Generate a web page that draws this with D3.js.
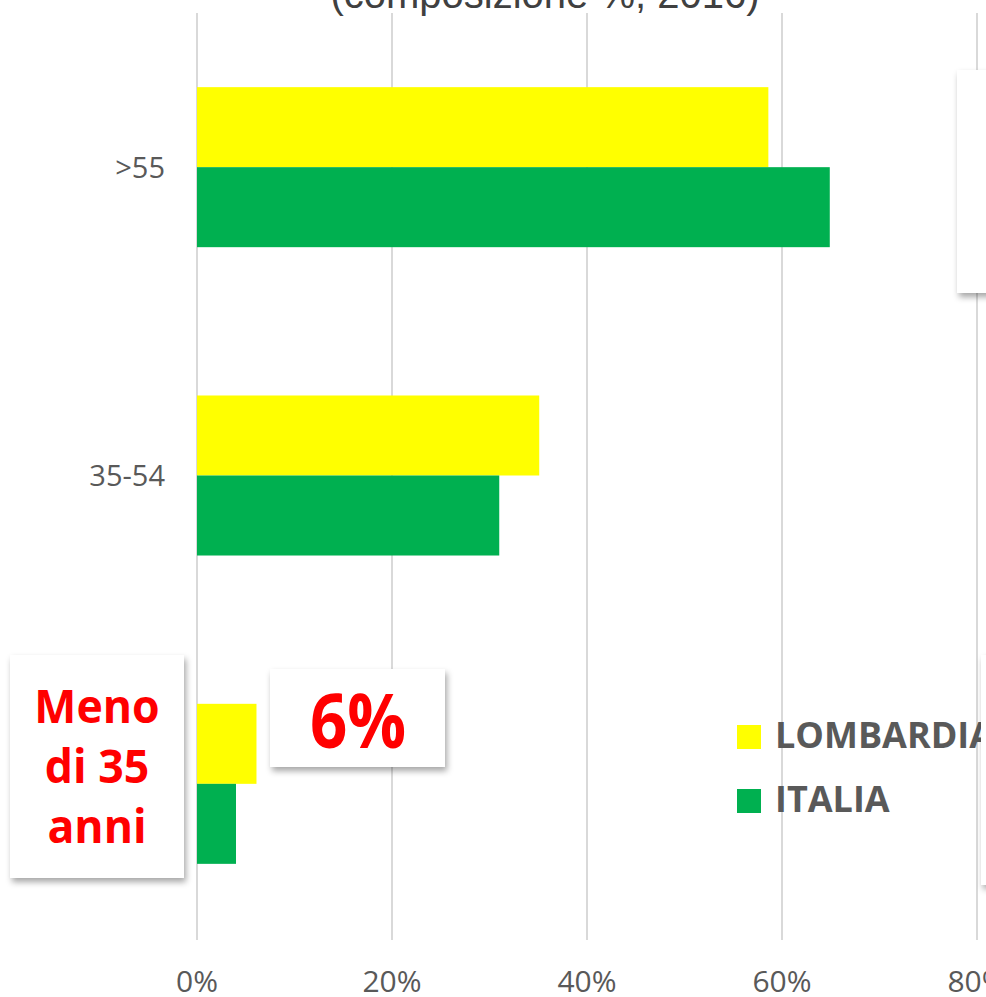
<!DOCTYPE html>
<html>
<head>
<meta charset="utf-8">
<script src="https://cdn.jsdelivr.net/npm/d3@7"></script>
<style>
  body { margin: 0; background: #fff; overflow: hidden; }
  svg { display: block; }
</style>
</head>
<body>
<script>
var width = 986;
var height = 997;

// data (percent)
var categories = [">55", "35-54", "<35"];
var seriesNames = ["LOMBARDIA", "ITALIA"];
var lombardia = [58.6, 35.1, 6.1];
var italia = [64.9, 31.0, 4.0];
var xTicks = [0, 20, 40, 60, 80];
var colors = ["#ffff00", "#00b050"];

var svg = d3.select("body").append("svg")
    .attr("width", width)
    .attr("height", height);

var defs = svg.append("defs");
var shadow = defs.append("filter")
    .attr("id", "shadow")
    .attr("x", "-20%").attr("y", "-20%")
    .attr("width", "140%").attr("height", "140%");
shadow.append("feDropShadow")
    .attr("dx", 2).attr("dy", 4)
    .attr("stdDeviation", 3)
    .attr("flood-color", "#000")
    .attr("flood-opacity", 0.35);

var xScale = d3.scaleLinear()
    .domain([0, 80])
    .range([197, 977]);

var yScale = d3.scaleBand()
    .domain(categories)
    .range([13, 938])
    .paddingInner(0.481)
    .paddingOuter(0.2405);

var inner = d3.scaleBand()
    .domain(seriesNames)
    .range([0, yScale.bandwidth()]);

// title (cut off at the top)
svg.append("text")
    .attr("x", 545)
    .attr("y", 8)
    .attr("text-anchor", "middle")
    .attr("font-family", "Liberation Sans, Arial, sans-serif")
    .attr("font-size", 40)
    .attr("fill", "#404040")
    .text("(composizione %, 2016)");

// gridlines
svg.append("g")
    .selectAll("line")
    .data(xTicks)
    .enter()
    .append("line")
        .attr("x1", function(d){ return xScale(d); })
        .attr("x2", function(d){ return xScale(d); })
        .attr("y1", 13)
        .attr("y2", 940)
        .attr("stroke", "#d9d9d9")
        .attr("stroke-width", 2);

// x tick labels
svg.append("g")
    .selectAll("text")
    .data(xTicks)
    .enter()
    .append("text")
        .attr("x", function(d){ return xScale(d); })
        .attr("y", 992)
        .attr("text-anchor", "middle")
        .attr("font-family", "Open Sans, sans-serif")
        .attr("font-size", 30)
        .attr("fill", "#595959")
        .text(function(d){ return d + "%"; });

// category labels (the youngest class is labelled by the red box instead)
svg.append("g")
    .selectAll("text")
    .data(categories.slice(0, 2))
    .enter()
    .append("text")
        .attr("x", 165)
        .attr("y", function(d){ return yScale(d) + yScale.bandwidth() / 2; })
        .attr("dy", "0.36em")
        .attr("text-anchor", "end")
        .attr("font-family", "Open Sans, sans-serif")
        .attr("font-size", 29)
        .attr("fill", "#595959")
        .text(function(d){ return d; });

// bars
var rows = categories.map(function(c, i){
    return {cat: c, values: [lombardia[i], italia[i]]};
});

var groups = svg.append("g")
    .selectAll("g")
    .data(rows)
    .enter()
    .append("g")
        .attr("transform", function(d){ return "translate(0," + yScale(d.cat) + ")"; });

groups.selectAll("rect")
    .data(function(d){
        return d.values.map(function(v, j){ return {name: seriesNames[j], value: v, color: colors[j]}; });
    })
    .enter()
    .append("rect")
        .attr("x", xScale(0))
        .attr("y", function(d){ return inner(d.name); })
        .attr("width", function(d){ return xScale(d.value) - xScale(0); })
        .attr("height", inner.bandwidth())
        .attr("fill", function(d){ return d.color; });

// legend
var legend = svg.append("g")
    .selectAll("g")
    .data(seriesNames)
    .enter()
    .append("g")
        .attr("transform", function(d, i){ return "translate(737," + (725 + i * 64) + ")"; });

legend.append("rect")
    .attr("width", 24)
    .attr("height", 24)
    .attr("fill", function(d, i){ return colors[i]; });

legend.append("text")
    .attr("x", 38)
    .attr("y", 23)
    .attr("font-family", "Open Sans, sans-serif")
    .attr("font-weight", "bold")
    .attr("font-size", 36)
    .attr("fill", "#595959")
    .text(function(d){ return d; });

// annotation boxes
function box(x, y, w, h) {
    svg.append("rect")
        .attr("x", x).attr("y", y)
        .attr("width", w).attr("height", h)
        .attr("fill", "#fff")
        .attr("filter", "url(#shadow)");
}

box(10, 655, 174, 223);
box(270, 669, 175, 98);
box(957, 70, 60, 223);
box(981, 655, 40, 230);

var meno = svg.append("text")
    .attr("text-anchor", "middle")
    .attr("font-family", "Open Sans, sans-serif")
    .attr("font-weight", "bold")
    .attr("font-size", 46)
    .attr("fill", "#ff0000")
    .attr("transform", "translate(97,0) scale(0.97,1)");

["Meno", "di 35", "anni"].forEach(function(t, i){
    meno.append("tspan")
        .attr("x", 0)
        .attr("y", 723 + i * 60)
        .text(t);
});

svg.append("text")
    .attr("text-anchor", "middle")
    .attr("font-family", "Open Sans, sans-serif")
    .attr("font-weight", "bold")
    .attr("font-size", 76)
    .attr("fill", "#ff0000")
    .attr("transform", "translate(358,748) scale(0.86,1)")
    .text("6%");
</script>
</body>
</html>
